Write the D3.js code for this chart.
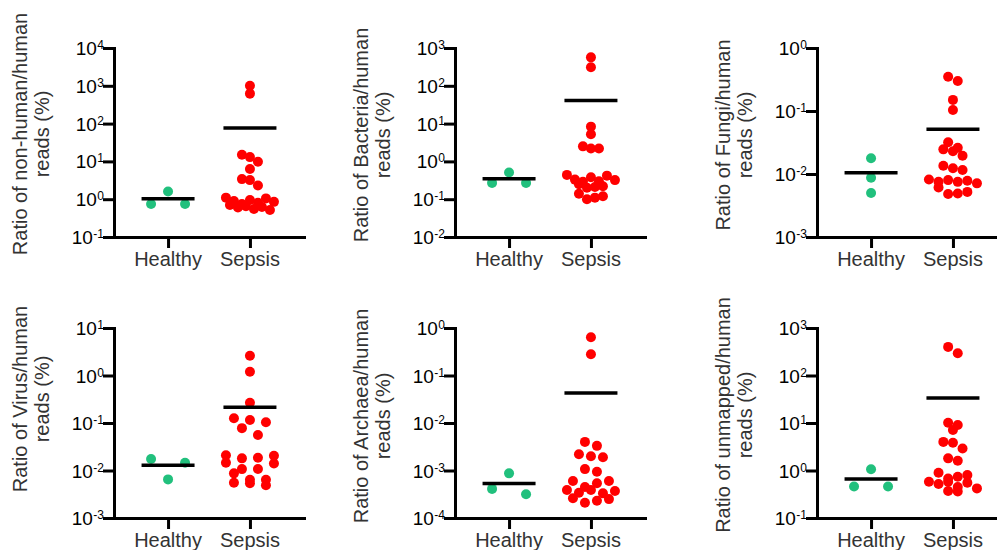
<!DOCTYPE html>
<html><head><meta charset="utf-8">
<script src="https://cdn.jsdelivr.net/npm/d3@7"></script>
<style>body{margin:0;background:#fff}svg{display:block}text{font-family:"Liberation Sans",Arial,sans-serif}</style>
</head><body><svg id="c" width="997" height="550"></svg>
<script>
// ---------- data ----------
const categories = ["Healthy", "Sepsis"];
const titleLines = [
  ["Ratio of non-human/human", "reads (%)"],
  ["Ratio of Bacteria/human", "reads (%)"],
  ["Ratio of Fungi/human", "reads (%)"],
  ["Ratio of Virus/human", "reads (%)"],
  ["Ratio of Archaea/human", "reads (%)"],
  ["Ratio of unmapped/human", "reads (%)"]
];
const exponentRanges = [[-1, 4], [-2, 3], [-3, 0], [-3, 1], [-4, 0], [-1, 3]];

const healthyNonHuman = [0.75, 1.6, 0.75];
const sepsisNonHuman = [1000, 620, 15, 13, 9.8, 6.3, 3.4, 3.2, 2.3, 1.1, 1.05, 0.95, 0.9, 0.85, 0.8, 0.75, 0.7, 0.65, 0.6, 0.55, 0.52, 0.62];

const healthyBacteria = [0.27, 0.51, 0.27];
const sepsisBacteria = [565, 310, 8.3, 5.2, 2.5, 2.2, 2.2, 0.44, 0.42, 0.38, 0.33, 0.32, 0.30, 0.29, 0.25, 0.22, 0.21, 0.20, 0.14, 0.12, 0.11, 0.10];

const healthyFungi = [0.0178, 0.0087, 0.0050];
const sepsisFungi = [0.35, 0.30, 0.15, 0.104, 0.032, 0.026, 0.023, 0.0195, 0.0246, 0.0123, 0.0135, 0.0116, 0.0082, 0.0071, 0.0078, 0.0075, 0.0080, 0.0075, 0.0061, 0.0049, 0.0052, 0.0048];

const healthyVirus = [0.0146, 0.0175, 0.0065];
const sepsisVirus = [2.6, 1.2, 0.267, 0.116, 0.126, 0.104, 0.078, 0.056, 0.018, 0.014, 0.021, 0.0145, 0.0205, 0.0186, 0.0107, 0.0108, 0.0087, 0.0054, 0.0055, 0.0064, 0.0049, 0.0064];

const healthyArchaea = [0.000316, 0.00087, 0.00041];
const sepsisArchaea = [0.64, 0.28, 0.0040, 0.0033, 0.0022, 0.0019, 0.0020, 0.00107, 0.00094, 0.0006, 0.00039, 0.00037, 0.00034, 0.00045, 0.00054, 0.0006, 0.00039, 0.00033, 0.00023, 0.00025, 0.00026, 0.00021];

const healthyUnmapped = [0.46, 1.06, 0.46];
const sepsisUnmapped = [400, 295, 10.1, 9.1, 7.1, 4.0, 3.85, 2.9, 1.8, 1.6, 0.9, 0.80, 0.55, 0.58, 0.52, 0.58, 0.68, 0.74, 0.36, 0.37, 0.42, 0.45];

const healthySeries = [healthyNonHuman, healthyBacteria, healthyFungi, healthyVirus, healthyArchaea, healthyUnmapped];
const sepsisSeries = [sepsisNonHuman, sepsisBacteria, sepsisFungi, sepsisVirus, sepsisArchaea, sepsisUnmapped];

// ---------- layout ----------
const colLeft = [114, 455, 817];
const rowTop = [48, 328];
const rowBottom = [237, 518];
const plotW = 190;
const titleCenterY = [134, 135, 135, 399, 416, 415];
const groupColors = ["#21c07d", "#ff0000"];
const dotR = 5;

const svg = d3.select("#c");

function swarm(values, y, cx, maxHalf, maxSpacing, rowH) {
  const pts = values.map((v, i) => ({v, y: y(v), i})).sort((a, b) => a.y - b.y);
  const rows = []; let cur = null;
  for (const p of pts) {
    if (!cur || p.y - cur[0].y > rowH) { cur = [p]; rows.push(cur); } else cur.push(p);
  }
  const maxK = d3.max(rows, r => r.length);
  const sp = maxK > 1 ? Math.min(maxSpacing, 2 * maxHalf / (maxK - 1)) : 0;
  rows.forEach(r => {
    const k = r.length;
    const order = r.map((p, j) => j).sort((a, b) => ((a * 3) % k) - ((b * 3) % k));
    r.forEach((p, j) => { p.x = cx + (order[j] - (k - 1) / 2) * sp; });
  });
  return pts;
}

titleLines.forEach((lines, idx) => {
  const c = idx % 3, r = Math.floor(idx / 3);
  const left = colLeft[c], top = rowTop[r], bottom = rowBottom[r];
  const [e0, e1] = exponentRanges[idx];
  const g = svg.append("g").attr("transform", `translate(${left},0)`);

  const y = d3.scaleLog().domain([Math.pow(10, e0), Math.pow(10, e1)]).range([bottom, top]);
  const x = d3.scalePoint().domain(categories).range([0, plotW]).padding(0.66);
  const decades = d3.range(e0, e1 + 1);

  const ya = g.append("g").call(d3.axisLeft(y).tickValues(decades.map(e => Math.pow(10, e))).tickSize(11).tickSizeOuter(0).tickFormat(""));
  ya.select(".domain").attr("stroke", "#000").attr("stroke-width", 3).attr("stroke-linecap", "square");
  ya.selectAll(".tick line").attr("stroke", "#000").attr("stroke-width", 3);

  decades.forEach(e => {
    const t = g.append("text").attr("x", -10).attr("y", y(Math.pow(10, e)) + 7)
      .attr("text-anchor", "end").attr("fill", "#000").style("font-size", "19px");
    t.append("tspan").text("10");
    t.append("tspan").attr("dy", -6).attr("dx", 0.5).style("font-size", "12px").text(String(e));
  });

  const xa = g.append("g").attr("transform", `translate(0,${bottom})`)
    .call(d3.axisBottom(x).tickSize(11).tickSizeOuter(0).tickFormat(""));
  xa.select(".domain").attr("stroke", "#000").attr("stroke-width", 3).attr("stroke-linecap", "square");
  xa.selectAll(".tick line").attr("stroke", "#000").attr("stroke-width", 3);
  categories.forEach(cat => {
    g.append("text").attr("x", x(cat)).attr("y", bottom + 29).attr("text-anchor", "middle")
      .attr("fill", "#333").style("font-size", "20px").text(cat);
  });

  const tc = titleCenterY[idx];
  lines.forEach((ln, k) => {
    const bx = k === 0 ? -87 : -65;
    g.append("text").attr("transform", `translate(${bx},${tc}) rotate(-90)`)
      .attr("text-anchor", "middle").attr("fill", "#333").style("font-size", "20px").text(ln);
  });

  [healthySeries[idx], sepsisSeries[idx]].forEach((vals, gi) => {
    const cx = x(categories[gi]);
    const pts = swarm(vals, y, cx, gi === 0 ? 25 : 24, 34, 7);
    g.append("g").selectAll("circle").data(pts).join("circle")
      .attr("cx", d => d.x).attr("cy", d => d.y).attr("r", dotR).attr("fill", groupColors[gi]);
    const m = d3.mean(vals);
    g.append("line").attr("x1", cx - 26.5).attr("x2", cx + 26.5).attr("y1", y(m)).attr("y2", y(m))
      .attr("stroke", "#000").attr("stroke-width", 3.5);
  });
});
</script></body></html>
